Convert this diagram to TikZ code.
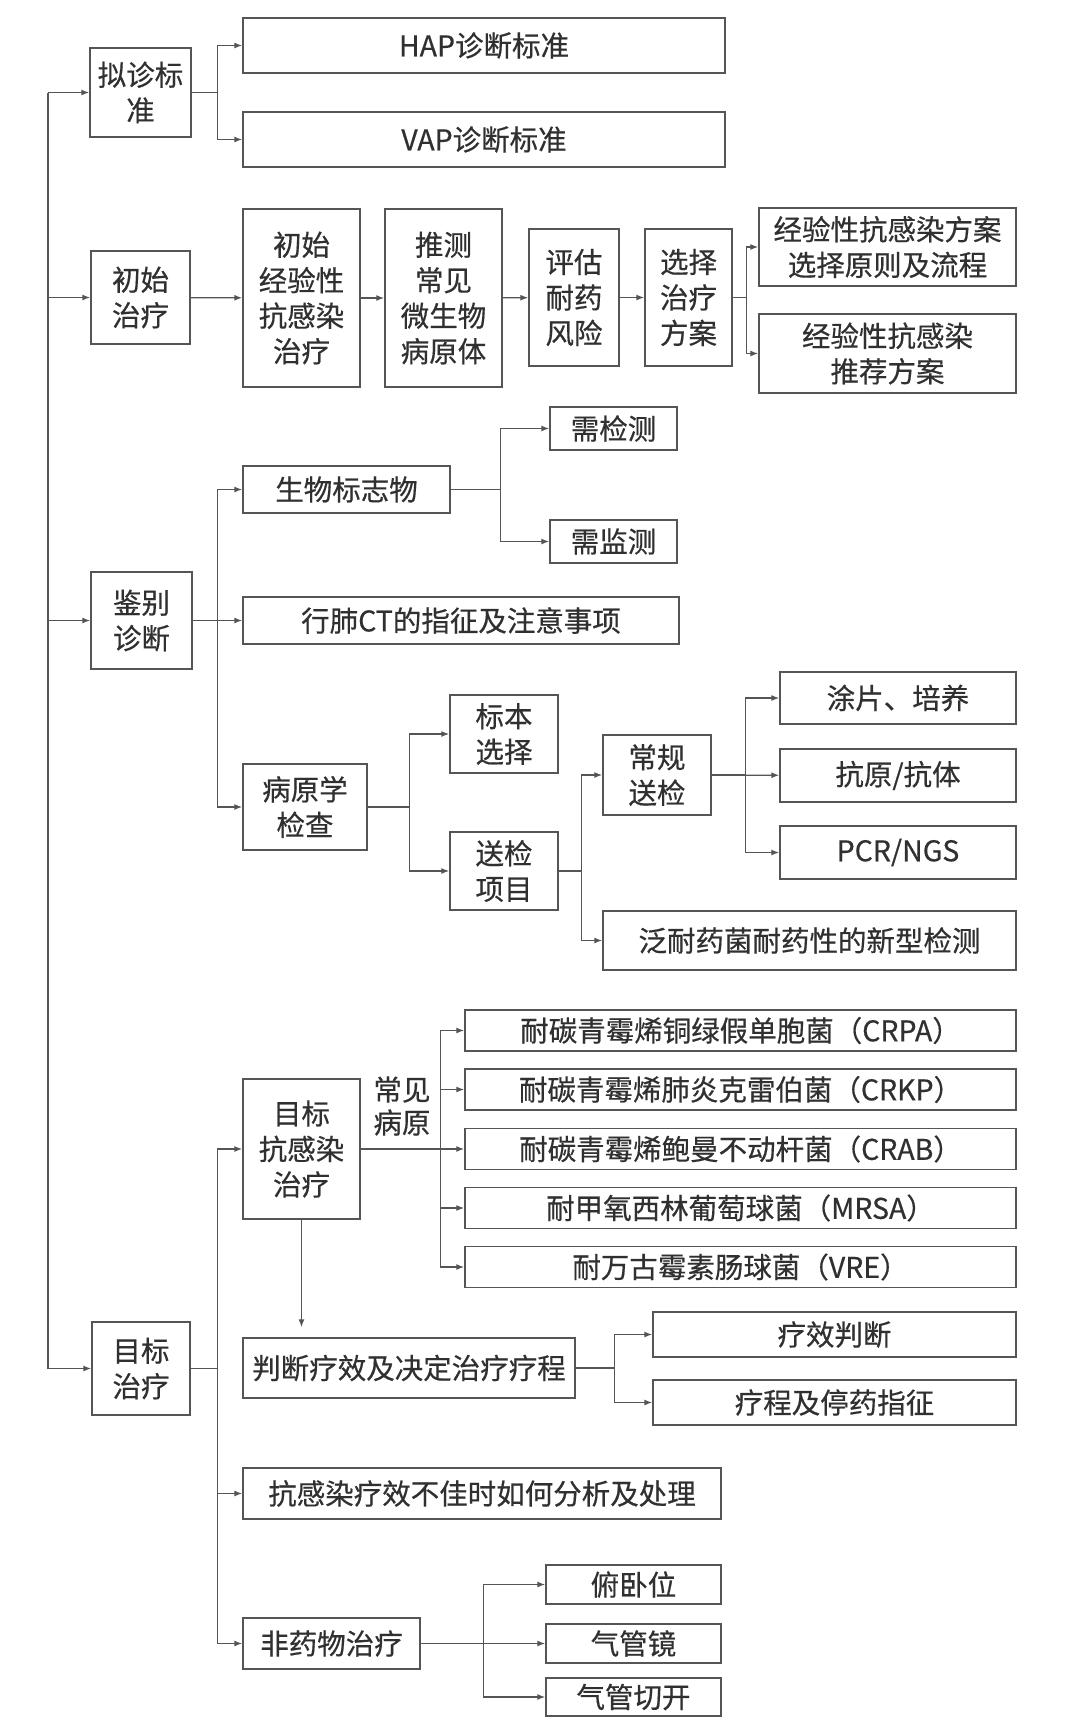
\documentclass[tikz,border=0pt]{standalone}
\usepackage{fontspec}
\setmainfont{Noto Sans CJK SC}[FakeBold=0.5]
\usetikzlibrary{arrows.meta,positioning}
\definecolor{linegray}{HTML}{555555}
\definecolor{textgray}{HTML}{303030}

\begin{document}
\begin{tikzpicture}[x=1pt,y=-1pt,every node/.style={font=\fontsize{28.5}{35.5}\selectfont,text=textgray},box/.style={draw=linegray,line width=1.4pt,inner sep=0pt,align=center},arr/.style={draw=linegray,line width=1.3pt,-{Latex[length=8pt,width=6pt]}},ln/.style={draw=linegray,line width=1.3pt}]
\useasboundingbox (0,0) rectangle (1080,1735);
\node[box,minimum width=101pt,minimum height=89pt] (nizhen) at (140.5,92.5) {拟诊标\\准};
\node[box,minimum width=482pt,minimum height=55pt] (hap) at (484,45.5) {HAP诊断标准};
\node[box,minimum width=482pt,minimum height=55pt] (vap) at (484,139.5) {VAP诊断标准};
\node[box,minimum width=99pt,minimum height=93pt] (chushi) at (140.5,297.5) {初始\\治疗};
\node[box,minimum width=117pt,minimum height=178pt] (jingyan) at (301.5,298) {初始\\经验性\\抗感染\\治疗};
\node[box,minimum width=117pt,minimum height=178pt] (tuice) at (443.5,298) {推测\\常见\\微生物\\病原体};
\node[box,minimum width=90pt,minimum height=137pt] (pinggu) at (574,297.5) {评估\\耐药\\风险};
\node[box,minimum width=87pt,minimum height=137pt] (xuanze) at (688.5,297.5) {选择\\治疗\\方案};
\node[box,minimum width=257pt,minimum height=78pt] (yuanze) at (887.5,247) {经验性抗感染方案\\选择原则及流程};
\node[box,minimum width=257pt,minimum height=79pt] (tuijian) at (887.5,353.5) {经验性抗感染\\推荐方案};
\node[box,minimum width=101pt,minimum height=97pt] (jianbie) at (141.5,620.5) {鉴别\\诊断};
\node[box,minimum width=207pt,minimum height=47pt] (biaozhi) at (346.5,489.5) {生物标志物};
\node[box,minimum width=127pt,minimum height=43pt] (jiance) at (613.5,428.5) {需检测};
\node[box,minimum width=127pt,minimum height=43pt] (jianshi) at (613.5,541.5) {需监测};
\node[box,minimum width=436pt,minimum height=47pt] (feict) at (461,620.5) {行肺CT的指征及注意事项};
\node[box,minimum width=124pt,minimum height=86pt] (bingyuan) at (305,807) {病原学\\检查};
\node[box,minimum width=108pt,minimum height=78pt] (biaoben) at (504,734) {标本\\选择};
\node[box,minimum width=108pt,minimum height=78pt] (songjian) at (504,871) {送检\\项目};
\node[box,minimum width=108pt,minimum height=80pt] (changgui) at (657,775) {常规\\送检};
\node[box,minimum width=236pt,minimum height=52pt] (tupian) at (898,698) {涂片、培养};
\node[box,minimum width=236pt,minimum height=53pt] (kangyuan) at (898,775.5) {抗原/抗体};
\node[box,minimum width=236pt,minimum height=53pt] (pcr) at (898,852.5) {PCR/NGS};
\node[box,minimum width=413pt,minimum height=59pt] (fannai) at (809.5,940.5) {泛耐药菌耐药性的新型检测};
\node[box,minimum width=98pt,minimum height=93pt] (mubiao) at (141,1368.5) {目标\\治疗};
\node[box,minimum width=117pt,minimum height=140pt] (kanggan) at (301.5,1149) {目标\\抗感染\\治疗};
\node[align=center,font=\fontsize{28.5}{33}\selectfont] (changjian) at (402,1106) {常见\\病原};
\node[box,minimum width=551pt,minimum height=41pt] (crpa) at (740.5,1030.5) {耐碳青霉烯铜绿假单胞菌（CRPA）};
\node[box,minimum width=551pt,minimum height=41pt] (crkp) at (740.5,1089.5) {耐碳青霉烯肺炎克雷伯菌（CRKP）};
\node[box,minimum width=551pt,minimum height=41pt] (crab) at (740.5,1149) {耐碳青霉烯鲍曼不动杆菌（CRAB）};
\node[box,minimum width=551pt,minimum height=41pt] (mrsa) at (740.5,1208) {耐甲氧西林葡萄球菌（MRSA）};
\node[box,minimum width=551pt,minimum height=41pt] (vre) at (740.5,1267) {耐万古霉素肠球菌（VRE）};
\node[box,minimum width=332pt,minimum height=60pt] (panduan) at (409,1368) {判断疗效及决定治疗疗程};
\node[box,minimum width=363pt,minimum height=45pt] (liaoxiao) at (834.5,1334.5) {疗效判断};
\node[box,minimum width=363pt,minimum height=45pt] (liaocheng) at (834.5,1402.5) {疗程及停药指征};
\node[box,minimum width=478pt,minimum height=51pt] (bujia) at (482,1493.5) {抗感染疗效不佳时如何分析及处理};
\node[box,minimum width=177pt,minimum height=51pt] (feiyaowu) at (331.5,1643.5) {非药物治疗};
\node[box,minimum width=175pt,minimum height=39pt] (fuwo) at (633.5,1584.5) {俯卧位};
\node[box,minimum width=175pt,minimum height=39pt] (qiguanjing) at (633.5,1643.5) {气管镜};
\node[box,minimum width=175pt,minimum height=38pt] (qieka) at (633.5,1697) {气管切开};
\coordinate (trunk) at (48,92.5);
\draw[arr] (trunk) -- (nizhen.west);\draw[arr] (trunk) |- (chushi.west);\draw[arr] (trunk) |- (jianbie.west);\draw[arr] (trunk) |- (mubiao.west);
\draw[arr] (nizhen.east) -- ++(26,0) |- (hap.west);\draw[arr] (nizhen.east) -- ++(26,0) |- (vap.west);
\draw[arr] (chushi) -- (jingyan);\draw[arr] (jingyan) -- (tuice);\draw[arr] (tuice) -- (pinggu);\draw[arr] (pinggu) -- (xuanze);
\draw[arr] (xuanze.east) -- ++(14,0) |- (yuanze.west);\draw[arr] (xuanze.east) -- ++(14,0) |- (tuijian.west);
\draw[arr] (jianbie.east) -- ++(25,0) |- (biaozhi.west);\draw[arr] (jianbie) -- (feict);\draw[arr] (jianbie.east) -- ++(25,0) |- (bingyuan.west);
\draw[arr] (biaozhi.east) -- ++(50,0) |- (jiance.west);\draw[arr] (biaozhi.east) -- ++(50,0) |- (jianshi.west);
\draw[arr] (bingyuan.east) -- ++(41.5,0) |- (biaoben.west);\draw[arr] (bingyuan.east) -- ++(41.5,0) |- (songjian.west);
\draw[arr] (songjian.east) -- ++(22.5,0) |- (changgui.west);\draw[arr] (songjian.east) -- ++(22.5,0) |- (fannai.west);
\draw[arr] (changgui.east) -- ++(34,0) |- (tupian.west);\draw[arr] (changgui) -- (kangyuan);\draw[arr] (changgui.east) -- ++(34,0) |- (pcr.west);
\draw[ln] (mubiao.east) -- ++(27,0);
\draw[arr] (mubiao.east) -- ++(27,0) |- (kanggan.west);\draw[arr] (mubiao.east) -- ++(27,0) |- (bujia.west);\draw[arr] (mubiao.east) -- ++(27,0) |- (feiyaowu.west);
\foreach \b in {crpa,crkp,mrsa,vre}{\draw[arr] (kanggan.east) -- ++(80,0) |- (\b.west);}
\draw[arr] (kanggan) -- (crab);
\draw[arr,shorten >=10pt] (kanggan.south) -- (kanggan.south |- panduan.north);
\draw[arr] (panduan.east) -- ++(39,0) |- (liaoxiao.west);\draw[arr] (panduan.east) -- ++(39,0) |- (liaocheng.west);
\draw[arr] (feiyaowu.east) -- ++(63,0) |- (fuwo.west);\draw[arr] (feiyaowu) -- (qiguanjing);\draw[arr] (feiyaowu.east) -- ++(63,0) |- (qieka.west);
\end{tikzpicture}
\end{document}
